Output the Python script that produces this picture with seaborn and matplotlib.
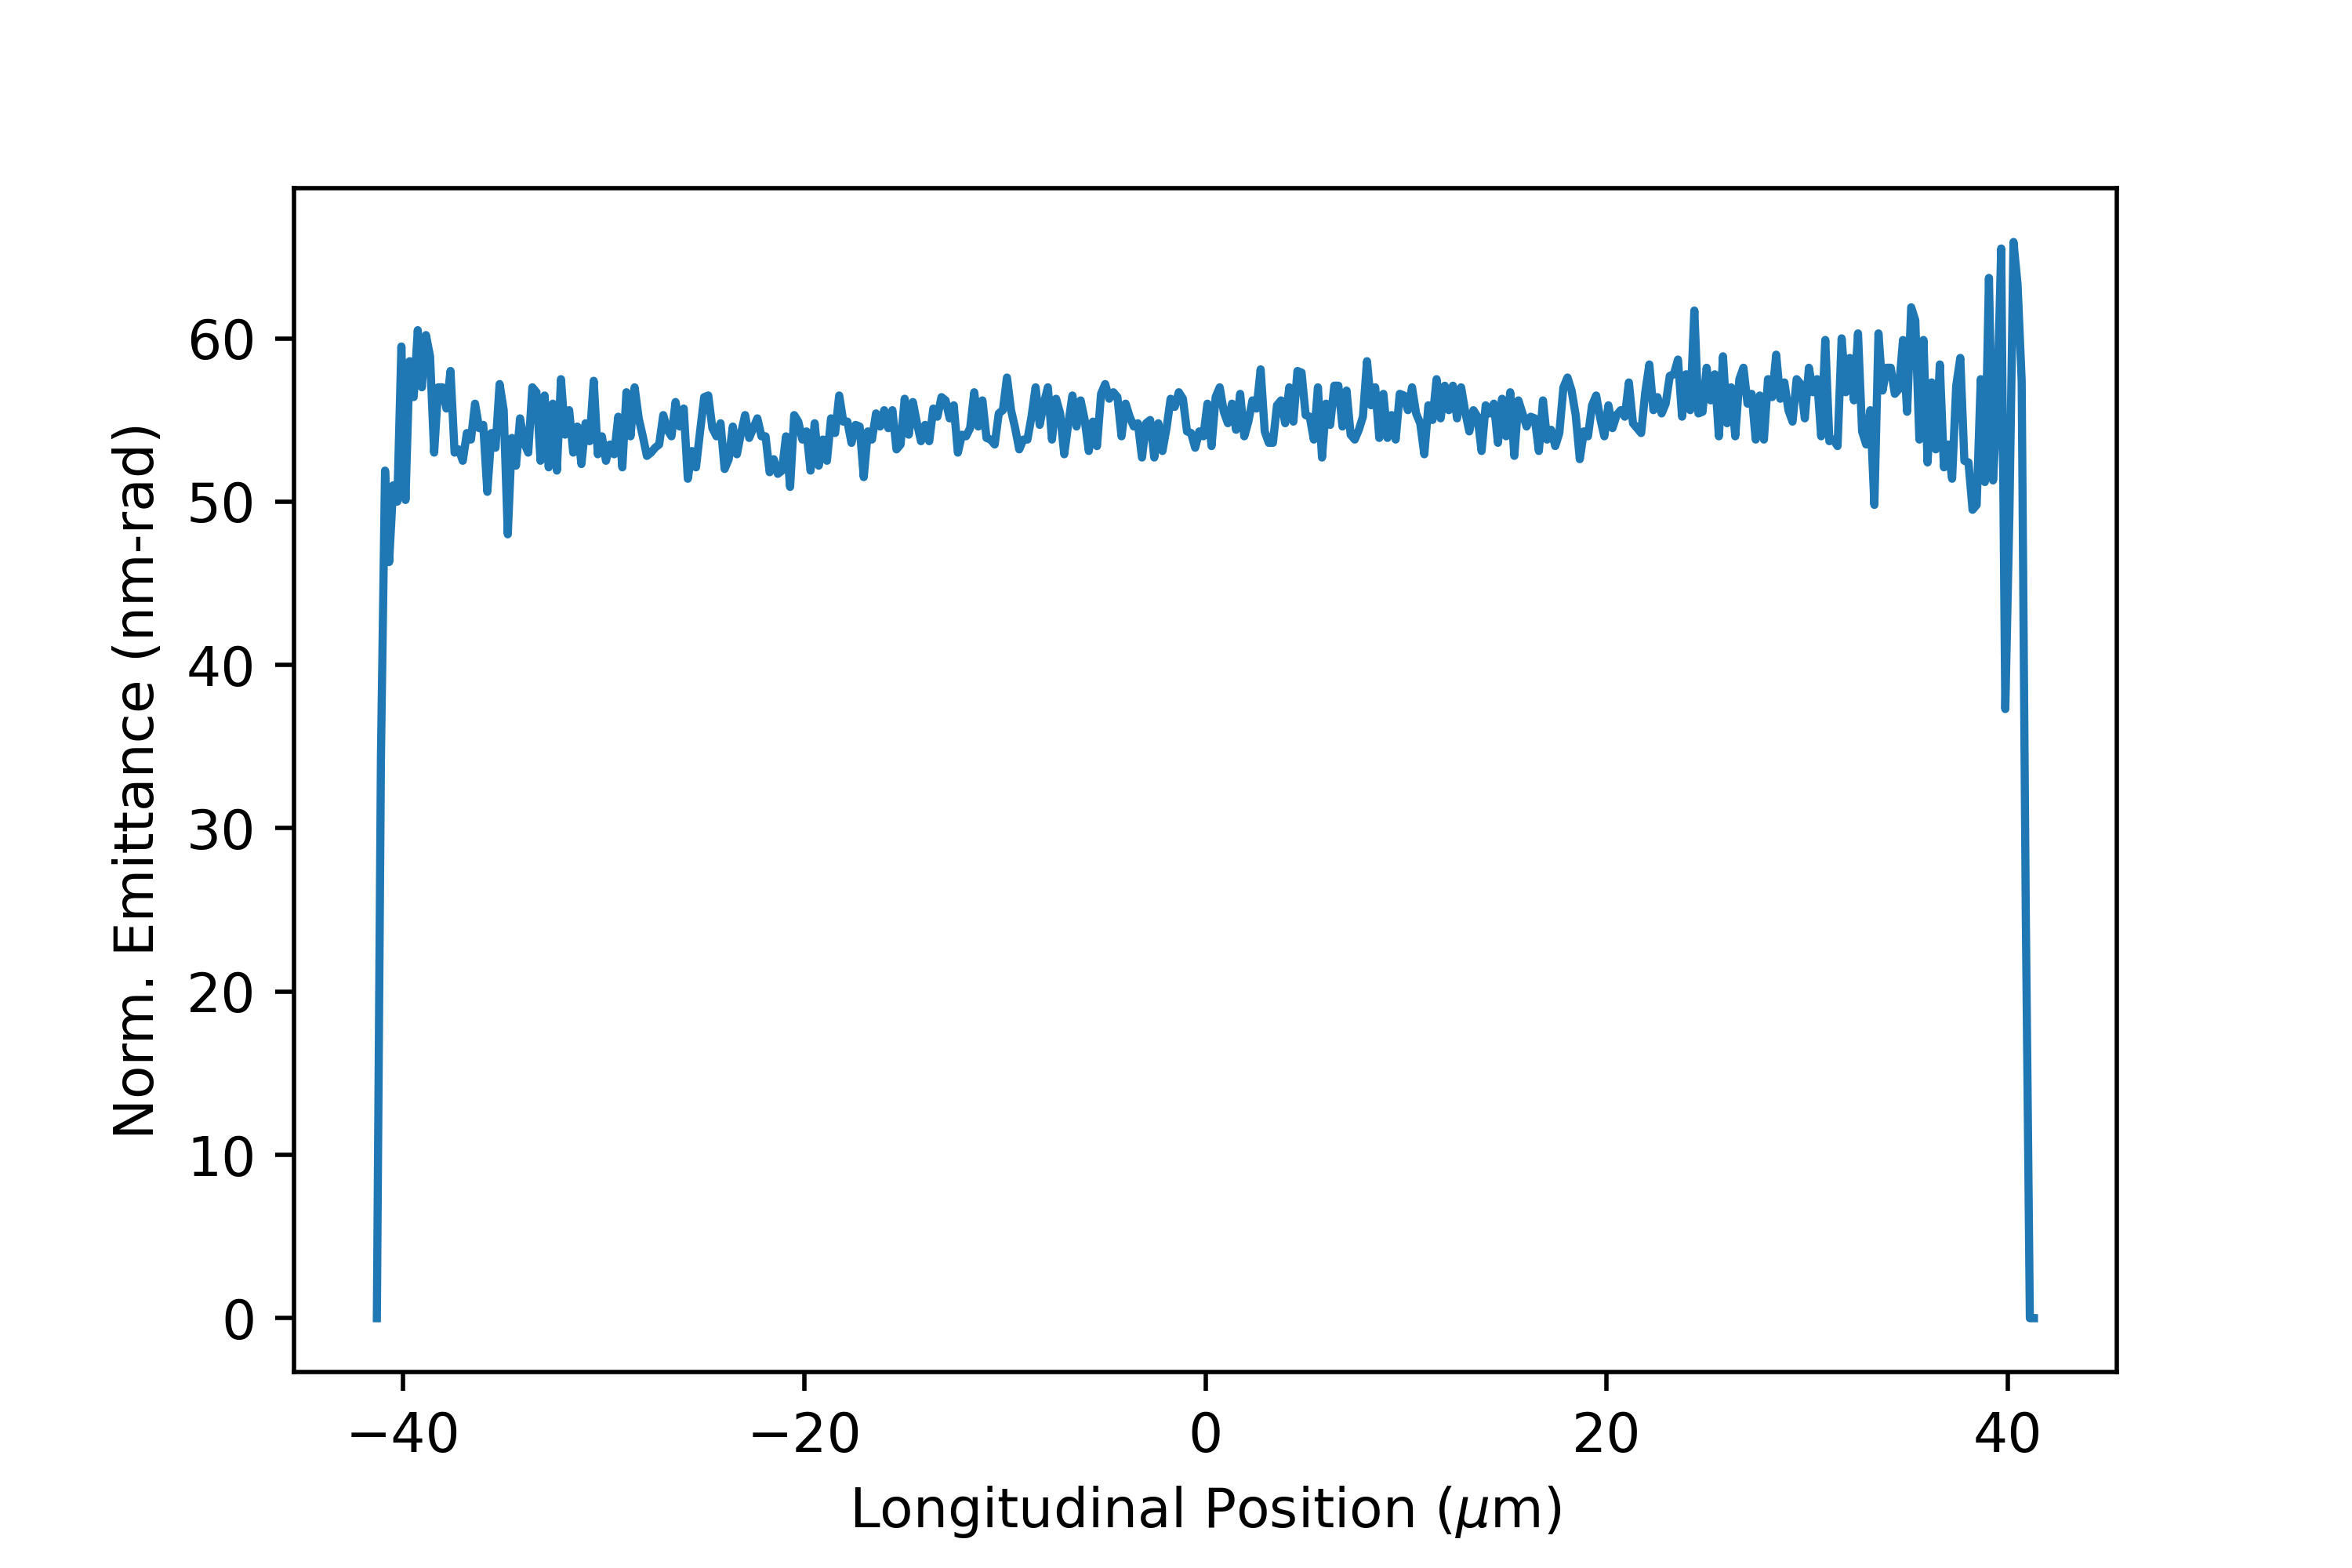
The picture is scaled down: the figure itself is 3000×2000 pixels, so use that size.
import numpy as np
import matplotlib
matplotlib.use("Agg")
import matplotlib.pyplot as plt
import seaborn as sns
import pandas as pd

# --Emittance values, left to right
emit_left = [0.0, 34.4, 51.9, 46.3, 51.0, 50.0, 59.5, 50.1, 58.6, 56.4, 60.5, 57.0,
             60.2, 58.9, 53.0, 57.0, 57.0, 55.7, 58.0, 53.0, 53.2, 52.5, 54.2, 53.8,
             56.0, 54.5, 54.7, 50.6, 54.2, 53.3, 57.2, 55.6, 48.0, 53.9, 52.2, 55.1,
             53.6, 53.0, 57.0, 56.7, 52.5, 56.5, 52.1, 56.0, 51.9, 57.5, 54.1]
emit_2 = [55.6, 53.0, 54.6, 52.3, 54.8, 53.7, 57.4, 52.9, 54.0, 52.5, 53.5, 52.9,
          55.2, 52.1, 56.7, 54.0, 57.0, 55.1, 54.0, 52.8, 53.0, 53.3, 53.5, 55.3,
          54.4, 54.0, 56.1, 54.6, 55.7, 51.4, 53.1, 52.1, 54.3, 56.4, 56.5, 54.5,
          54.0, 54.8, 52.0, 52.6, 54.6, 52.9, 54.2, 55.3, 53.9, 54.5]
emit_3 = [55.1, 54.0, 54.0, 51.8, 52.6, 51.7, 51.9, 54.0, 50.9, 55.3, 54.9, 53.8,
          54.3, 51.9, 54.8, 52.2, 53.8, 52.5, 55.1, 54.2, 56.5, 54.9, 54.9, 53.6,
          54.7, 54.6, 51.5, 54.3, 53.8, 55.4, 54.6, 55.6, 54.5, 55.6, 53.2, 53.5,
          56.3, 54.1, 56.1, 54.8, 53.7, 54.7, 53.7, 55.7, 55.2, 56.4, 56.2, 55.1,
          55.9, 53.0, 54.1]
emit_4 = [54.0, 54.5, 56.7, 54.6, 56.2, 53.9, 53.8, 53.5, 55.4, 55.6, 57.6, 55.6,
          54.5, 53.2, 53.8, 53.8, 55.2, 57.0, 54.7, 56.0, 57.0, 53.8, 56.3, 55.4,
          52.9, 54.8, 56.5, 54.6, 56.2, 55.0, 53.1, 54.9, 53.4, 56.6, 57.2, 56.3,
          56.7, 56.4, 54.0, 56.0, 55.2, 54.6, 54.8, 52.7, 54.8, 55.0]
emit_5 = [52.7, 54.8, 53.1, 54.5, 56.3, 55.8, 56.7, 56.3, 54.3, 54.2, 53.3, 54.3,
          54.0, 56.0, 53.4, 56.4, 57.0, 55.5, 54.8, 56.0, 54.4, 56.6, 54.0, 54.9,
          56.2, 55.7, 58.1, 54.3, 53.6, 53.6, 55.9, 56.2, 54.8, 57.0, 54.9, 58.0,
          57.9, 55.3, 55.2, 53.8, 57.0, 52.7, 56.0, 54.7, 57.1]
emit_6 = [57.1, 54.6, 56.8, 54.1, 53.8, 54.4, 55.2, 58.6, 55.9, 57.0, 53.9, 56.6,
          53.9, 55.3, 53.8, 56.6, 56.5, 55.6, 57.0, 55.4, 54.8, 52.9, 55.9, 55.0,
          57.5, 55.1, 57.1, 55.6, 57.1, 55.1, 57.0, 55.5, 54.3, 55.6, 55.2, 53.1,
          55.9, 55.4, 56.0, 53.6, 56.3, 54.0, 56.7, 52.8]
emit_7 = [56.2, 55.4, 54.6, 55.2, 55.1, 53.1, 56.2, 53.8, 54.4, 53.4, 54.2, 57.0,
          57.6, 56.8, 55.3, 52.6, 54.3, 54.0, 55.9, 56.5, 55.1, 54.0, 55.9, 54.5,
          55.3, 55.6, 55.2, 57.3, 54.8, 54.5, 54.2, 56.7, 58.4, 55.6, 56.4, 55.4,
          56.0, 57.7, 57.8, 58.7, 55.2, 57.8, 55.6, 61.7]
emit_8 = [55.4, 55.5, 58.2, 56.2, 57.8, 54.0, 58.9, 54.8, 57.0, 54.0, 57.5, 58.2,
          56.0, 56.6, 53.8, 56.5, 53.8, 57.5, 56.4, 59.0, 56.3, 57.3, 55.6, 54.9,
          57.5, 57.2, 55.1, 58.2, 56.7, 57.5, 54.0, 59.9, 53.7, 53.8, 53.4, 60.0,
          56.7, 58.8, 56.2, 60.3, 54.3, 53.5, 55.6, 49.8, 60.3]
emit_right = [56.8, 58.2, 58.2, 56.6, 56.9, 59.9, 55.5, 61.9, 61.1, 53.8, 59.9, 52.4,
              57.3, 53.2, 58.4, 52.1, 53.5, 51.4, 57.1, 58.8, 52.5, 52.4, 49.5, 49.8,
              57.5, 51.2, 63.7, 51.3, 55.9, 65.5, 37.3, 49.2, 65.9, 63.3, 57.4, 25.0,
              0.0, 0.0]

emittance = (emit_left + emit_2 + emit_3 + emit_4 + emit_5 + emit_6
             + emit_7 + emit_8 + emit_right)

# --bunch spans -41.3 .. 41.3 um on an even grid
z_start, z_end = -41.3, 41.3
position = np.linspace(z_start, z_end, len(emittance))

df = pd.DataFrame({"z": position, "emit": emittance})

###     --Plot
fig, ax = plt.subplots(figsize=(6, 4), dpi=500)
fig.subplots_adjust(left=0.125, right=0.9, bottom=0.125, top=0.88)

sns.lineplot(data=df, x="z", y="emit", ax=ax, color="#1f77b4", linewidth=1.5,
             estimator=None, sort=False)

ax.set_xlabel(r"Longitudinal Position ($\mu$m)")
ax.set_ylabel("Norm. Emittance (nm-rad)")

fig.savefig("out.png", dpi=500)
